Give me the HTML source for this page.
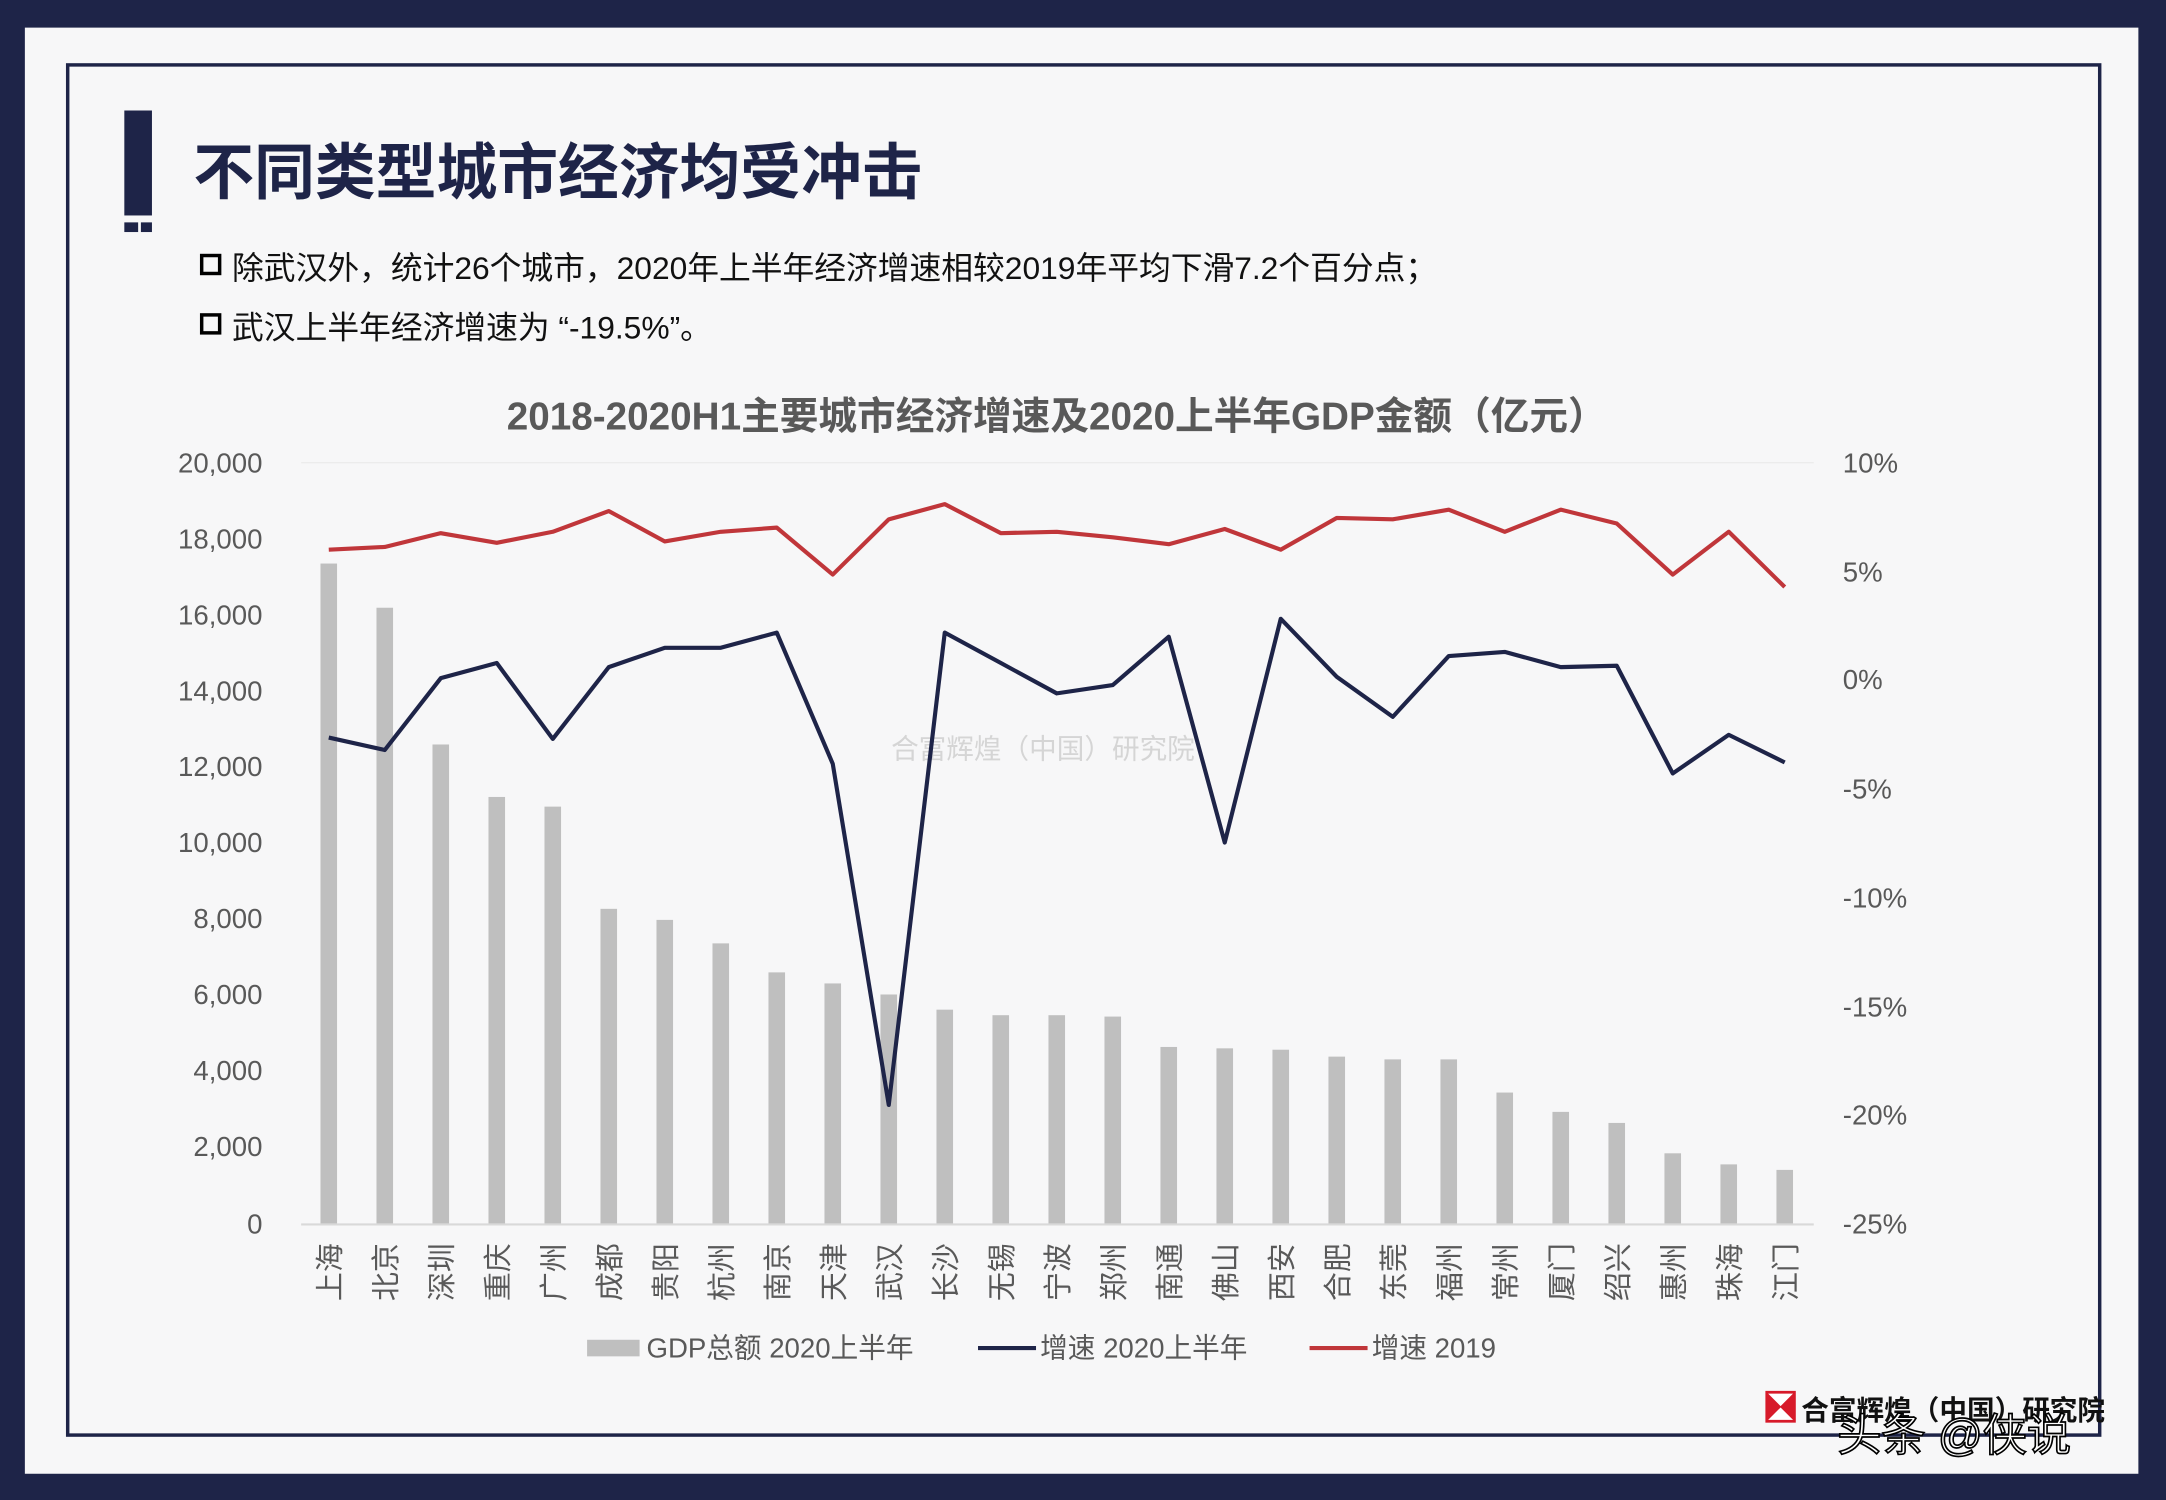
<!DOCTYPE html>
<html><head><meta charset="utf-8"><style>
html,body{margin:0;padding:0;width:2166px;height:1500px;overflow:hidden;background:#1e2448}
svg{display:block}
text{font-family:"Liberation Sans","Noto Sans CJK SC",sans-serif}
</style></head><body>
<svg width="2166" height="1500" viewBox="0 0 1568 1086" preserveAspectRatio="none" xmlns="http://www.w3.org/2000/svg">
<rect x="0" y="0" width="1568" height="1086" fill="#1e2448"/>
<rect x="18" y="20" width="1530" height="1047" fill="#f7f7f8"/>
<rect x="49" y="47" width="1471" height="992" fill="none" stroke="#1e2448" stroke-width="2.5"/>
<rect x="90" y="80" width="20" height="76" fill="#1e2448"/>
<rect x="90" y="161" width="10" height="7" fill="#1e2448"/>
<rect x="102" y="161" width="8" height="7" fill="#1e2448"/>
<text x="140" y="140" font-size="44" font-weight="bold" fill="#1e2448">不同类型城市经济均受冲击</text>
<rect x="146" y="185" width="13" height="13" fill="none" stroke="#000" stroke-width="2.5"/>
<text x="168" y="202" font-size="23" fill="#111">除武汉外，统计26个城市，2020年上半年经济增速相较2019年平均下滑7.2个百分点；</text>
<rect x="146" y="228" width="13" height="13" fill="none" stroke="#000" stroke-width="2.5"/>
<text x="168" y="245" font-size="23" fill="#111">武汉上半年经济增速为 “-19.5%”。</text>
<text x="765" y="311" font-size="28" font-weight="bold" fill="#595959" text-anchor="middle">2018-2020H1主要城市经济增速及2020上半年GDP金额（亿元）</text>
<g font-size="20" fill="#595959">
<g text-anchor="end">
<text x="190" y="342">20,000</text><text x="190" y="397">18,000</text><text x="190" y="452">16,000</text><text x="190" y="507">14,000</text><text x="190" y="562">12,000</text><text x="190" y="617">10,000</text><text x="190" y="672">8,000</text><text x="190" y="727">6,000</text><text x="190" y="782">4,000</text><text x="190" y="837">2,000</text><text x="190" y="893">0</text>
</g>
<text x="1334" y="342">10%</text><text x="1334" y="421">5%</text><text x="1334" y="499">0%</text><text x="1334" y="578">-5%</text><text x="1334" y="657">-10%</text><text x="1334" y="736">-15%</text><text x="1334" y="814">-20%</text><text x="1334" y="893">-25%</text>
</g>
<line x1="218" y1="335" x2="1313" y2="335" stroke="#ececec" stroke-width="1"/>
<text x="755" y="549" font-size="20" fill="#d5d5d5" text-anchor="middle">合富辉煌（中国）研究院</text>
<g fill="#bfbfbf" id="bars"></g>
<line x1="218" y1="886.5" x2="1313" y2="886.5" stroke="#d9d9d9" stroke-width="1.5"/>
<polyline id="red" fill="none" stroke="#c0363a" stroke-width="3" stroke-linejoin="round"/>
<polyline id="navy" fill="none" stroke="#1e2448" stroke-width="3" stroke-linejoin="round"/>
<g id="xl" font-size="21" fill="#595959" text-anchor="end"></g>
<rect x="425" y="970" width="38" height="12" fill="#bfbfbf"/>
<text x="468" y="983" font-size="20" fill="#595959">GDP总额 2020上半年</text>
<line x1="708" y1="976" x2="750" y2="976" stroke="#1e2448" stroke-width="3"/>
<text x="753" y="983" font-size="20" fill="#595959">增速 2020上半年</text>
<line x1="948" y1="976" x2="990" y2="976" stroke="#c0363a" stroke-width="3"/>
<text x="993" y="983" font-size="20" fill="#595959">增速 2019</text>
<rect x="1278" y="1007" width="22" height="23" fill="#d71a2a"/>
<path d="M1280 1009 L1298 1009 L1289 1018 Z M1280 1028 L1298 1028 L1289 1019 Z" fill="#fff"/>
<text x="1304" y="1028" font-size="20" font-weight="bold" fill="#111">合富辉煌（中国）研究院</text>
<text x="1330" y="1050" font-size="32" fill="#fff" stroke="#000" stroke-width="1.2">头条 @侠说</text>
</svg>
<script>
var names=["上海","北京","深圳","重庆","广州","成都","贵阳","杭州","南京","天津","武汉","长沙","无锡","宁波","郑州","南通","佛山","西安","合肥","东莞","福州","常州","厦门","绍兴","惠州","珠海","江门"];
var bars=[408,440,539,577,584,658,666,683,704,712,720,731,735,735,736,758,759,760,765,767,767,791,805,813,835,843,847];
var red=[398,396,386,393,385,370,392,385,382,416,376,365,386,385,389,394,383,398,375,376,369,385,369,379,416,385,425];
var nv=[534,543,491,480,535,483,469,469,458,553,800,458,480,502,496,461,610,448,490,519,475,472,483,482,560,532,552];
var ns="http://www.w3.org/2000/svg",b=document.getElementById("bars"),xl=document.getElementById("xl");
var rp=[],np=[];
for(var i=0;i<27;i++){var x=238+i*(1292-238)/26;
var r=document.createElementNS(ns,"rect");r.setAttribute("x",x-6);r.setAttribute("y",bars[i]);r.setAttribute("width",12);r.setAttribute("height",886-bars[i]);b.appendChild(r);
rp.push(x+","+red[i]);np.push(x+","+nv[i]);
var t=document.createElementNS(ns,"text");t.setAttribute("x",0);t.setAttribute("y",0);t.setAttribute("transform","translate("+(x+8)+",900) rotate(-90)");t.textContent=names[i];xl.appendChild(t);
}
document.getElementById("red").setAttribute("points",rp.join(" "));
document.getElementById("navy").setAttribute("points",np.join(" "));
</script>
</body></html>
